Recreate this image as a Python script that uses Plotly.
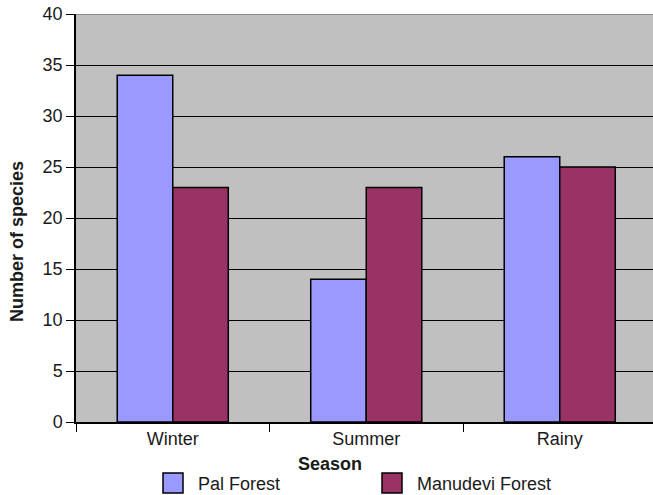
import plotly.graph_objects as go

# Species counts by season for the two forests
seasons = ["Winter", "Summer", "Rainy"]
pal_forest = [34, 14, 26]
manudevi_forest = [23, 23, 25]
y_ticks = [0, 5, 10, 15, 20, 25, 30, 35, 40]

BLUE = "#9999FF"
MAROON = "#993366"
FONT = "Liberation Sans, Arial, sans-serif"
FS = 18
TXT = "#1a1a1a"

W, H = 653, 495
L, R, T, B = 76, 0, 14, 73

fig = go.Figure()
fig.add_trace(go.Bar(x=seasons, y=pal_forest, name="Pal Forest",
                     marker=dict(color=BLUE, line=dict(color="black", width=1.5))))
fig.add_trace(go.Bar(x=seasons, y=manudevi_forest, name="Manudevi Forest",
                     marker=dict(color=MAROON, line=dict(color="black", width=1.5))))

# the plot runs slightly past the right edge of the page
cat_px = 193.5
x_hi = -0.5 + (W - L - R) / cat_px

fig.update_layout(
    width=W, height=H,
    margin=dict(l=L, r=R, t=T, b=B),
    paper_bgcolor="white", plot_bgcolor="#C0C0C0",
    barmode="group", bargap=0.426, bargroupgap=0,
    showlegend=False,
    font=dict(family=FONT, size=FS, color=TXT),
    xaxis=dict(range=[-0.5, x_hi], tickson="boundaries", ticks="outside",
               ticklen=8, tickcolor="black", tickwidth=1,
               showline=True, linecolor="black", linewidth=1.5,
               showgrid=False, tickfont=dict(size=FS, color=TXT)),
    yaxis=dict(range=[0, 40], tickvals=y_ticks, ticks="outside", ticklen=8,
               tickcolor="black", tickwidth=1, showline=True,
               linecolor="black", linewidth=1.5, showgrid=True,
               gridcolor="black", gridwidth=1, zeroline=False,
               tickfont=dict(size=FS, color=TXT)),
)

# grey border along the top of the plot
fig.add_shape(type="line", xref="paper", yref="y", x0=0, x1=1, y0=40, y1=40,
              line=dict(color="#8c8c8c", width=2))

pw, ph = W - L - R, H - T - B
def px_x(v):
    return (v - L) / pw
def px_y(v):
    return 1 - (v - T) / ph

# axis titles
fig.add_annotation(text="<b>Season</b>", xref="paper", yref="paper",
                   x=px_x(330), y=px_y(464), showarrow=False,
                   font=dict(size=FS, color=TXT),
                   xanchor="center", yanchor="middle")
fig.add_annotation(text="<b>Number of species</b>", xref="paper", yref="paper",
                   x=px_x(17), y=px_y(242), textangle=-90, showarrow=False,
                   font=dict(size=FS, color=TXT),
                   xanchor="center", yanchor="middle")

# legend drawn below the axis title
for x0, color, label in [(163, BLUE, "Pal Forest"), (382, MAROON, "Manudevi Forest")]:
    fig.add_shape(type="rect", xref="paper", yref="paper",
                  x0=px_x(x0), x1=px_x(x0 + 20), y0=px_y(493), y1=px_y(473),
                  fillcolor=color, line=dict(color="black", width=1.5))
    fig.add_annotation(text=label, xref="paper", yref="paper",
                       x=px_x(x0 + 33), y=px_y(484), showarrow=False,
                       xanchor="left", yanchor="middle",
                       font=dict(size=FS, color=TXT))

fig.write_html("out.html")
